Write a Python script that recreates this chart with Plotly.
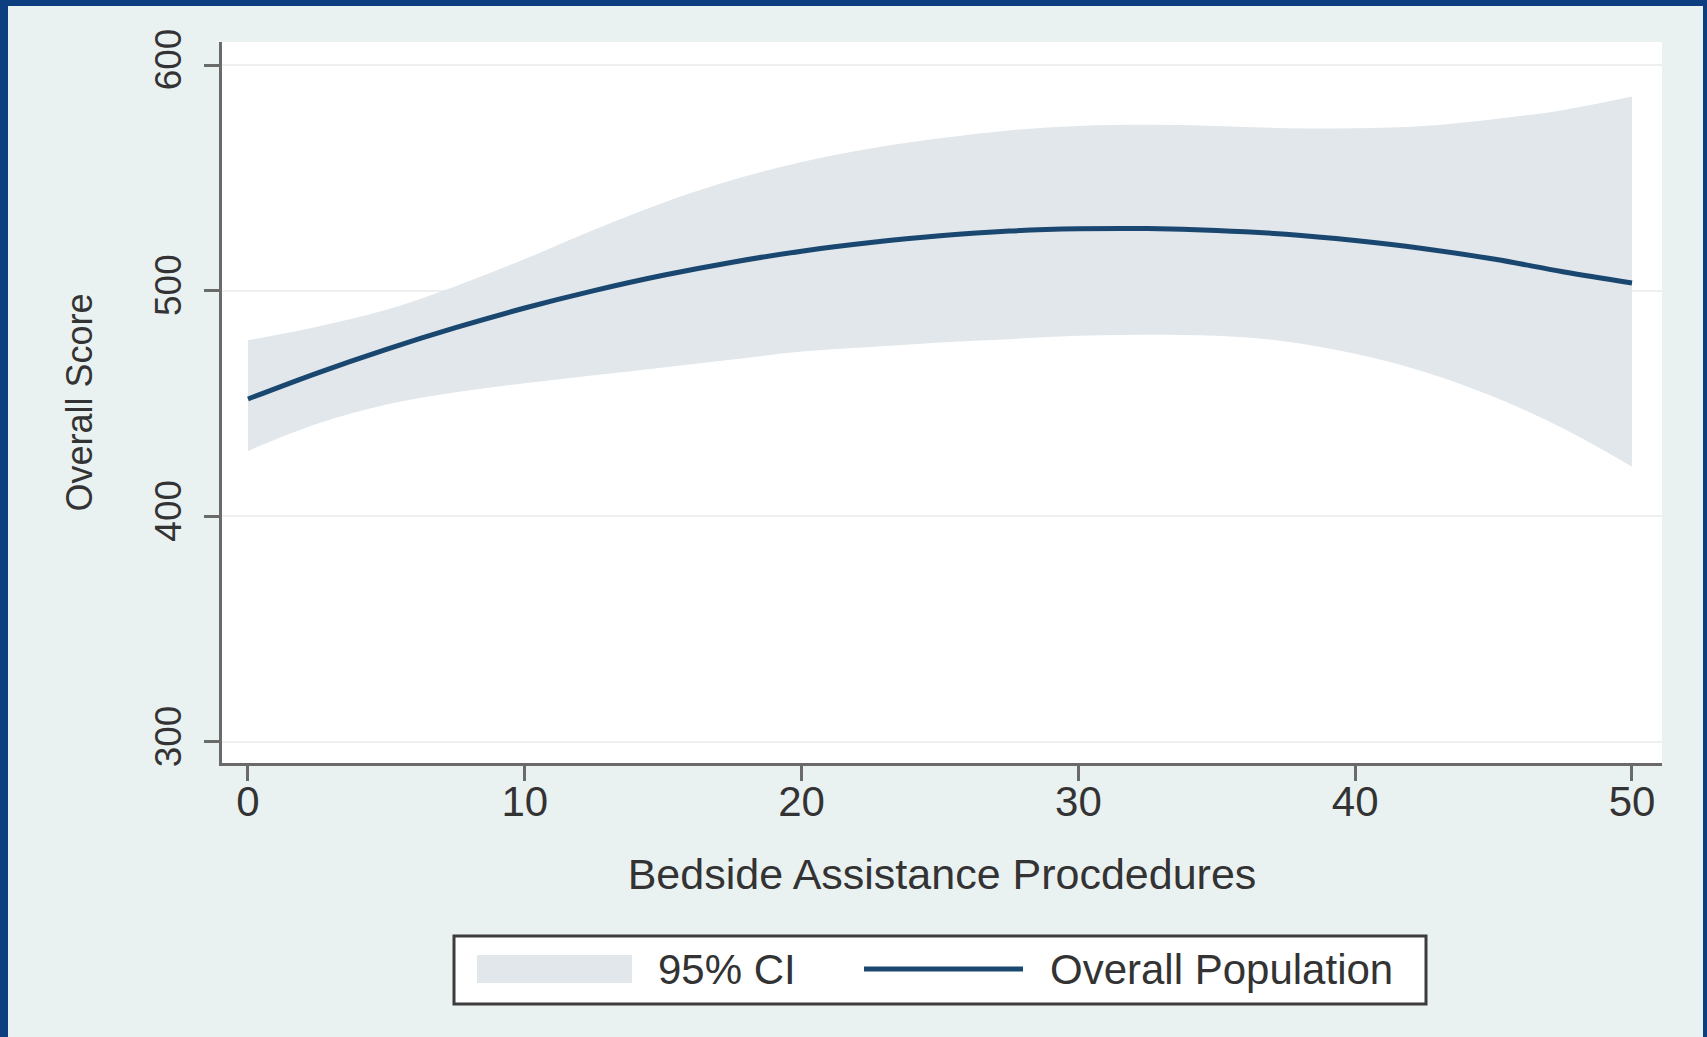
import plotly.graph_objects as go

# ---------------- data ----------------
x_vals = [0, 2.5, 5, 7.5, 10, 12.5, 15, 17.5, 20, 22.5, 25, 27.5, 30,
          32.5, 35, 37.5, 40, 42.5, 45, 47.5, 50]
fit_vals = [452.0, 463.5, 474.0, 483.6, 492.3, 500.0, 506.8, 512.6, 517.5,
            521.3, 524.3, 526.4, 527.4, 527.5, 526.7, 525.0, 522.2, 518.6,
            514.0, 508.4, 503.4]
ci_upper = [478, 484, 491.5, 502, 514, 527, 539, 549, 557, 563, 567.5, 571, 573,
            573.5, 573, 572, 572, 573, 576, 580, 586]
ci_lower = [429, 441, 449.5, 455, 459, 462.5, 466, 469.5, 473, 475, 477, 478.5,
            480, 480.5, 480, 477.5, 472, 464, 453, 439, 422]
x_ticks = [0, 10, 20, 30, 40, 50]
y_ticks = [300, 400, 500, 600]
legend_labels = ["95% CI", "Overall Population"]
x_title = "Bedside Assistance Procdedures"
y_title = "Overall Score"

# ---------------- styling ----------------
FONT = "Liberation Sans, Arial, sans-serif"
TXT = "#333333"
NAVY = "#1A476F"
CI_FILL = "#E1E7EB"
BG = "#EAF1F1"
FRAME = "#0C3E80"
AXIS = "#6A6A6A"

FW, FH = 1707, 1037
L, R, T, B = 222, 45, 42, 274
PW, PH = FW - L - R, FH - T - B


def px(x):
    return (x - L) / PW


def py(y):
    return 1 - (y - T) / PH


fig = go.Figure()
fig.add_trace(go.Scatter(x=x_vals, y=ci_lower, mode="lines", line=dict(width=0, shape="spline"),
                         showlegend=False, hoverinfo="skip"))
fig.add_trace(go.Scatter(x=x_vals, y=ci_upper, mode="lines", line=dict(width=0, shape="spline"),
                         fill="tonexty", fillcolor=CI_FILL, name=legend_labels[0], showlegend=False))
fig.add_trace(go.Scatter(x=x_vals, y=fit_vals, mode="lines",
                         line=dict(color=NAVY, width=5, shape="spline"),
                         name=legend_labels[1], showlegend=False))

shapes = [
    # slide frame
    dict(type="rect", xref="paper", yref="paper", x0=px(0), x1=px(8), y0=py(0), y1=py(FH),
         fillcolor=FRAME, line=dict(width=0)),
    dict(type="rect", xref="paper", yref="paper", x0=px(0), x1=px(FW), y0=py(0), y1=py(6),
         fillcolor=FRAME, line=dict(width=0)),
    dict(type="rect", xref="paper", yref="paper", x0=px(1703), x1=px(FW), y0=py(0), y1=py(FH),
         fillcolor=FRAME, line=dict(width=0)),
    # legend box
    dict(type="rect", xref="paper", yref="paper", x0=px(454), x1=px(1426), y0=py(936), y1=py(1004),
         fillcolor="white", line=dict(color="#3C3C3C", width=3)),
    dict(type="rect", xref="paper", yref="paper", x0=px(477), x1=px(632), y0=py(955), y1=py(983),
         fillcolor=CI_FILL, line=dict(width=0)),
    dict(type="line", xref="paper", yref="paper", x0=px(864), x1=px(1023), y0=py(969), y1=py(969),
         line=dict(color=NAVY, width=5)),
]

annotations = [
    dict(text=legend_labels[0], xref="paper", yref="paper", x=px(656), y=py(969),
         xanchor="left", yanchor="middle", showarrow=False, font=dict(size=42, color=TXT, family=FONT)),
    dict(text=legend_labels[1], xref="paper", yref="paper", x=px(1048), y=py(969),
         xanchor="left", yanchor="middle", showarrow=False, font=dict(size=42, color=TXT, family=FONT)),
]

fig.update_layout(
    width=FW, height=FH,
    margin=dict(l=L, r=R, t=T, b=B, pad=0),
    paper_bgcolor=BG, plot_bgcolor="white",
    font=dict(family=FONT, color=TXT),
    shapes=shapes, annotations=annotations,
    showlegend=False,
)
fig.update_xaxes(
    range=[-0.939, 51.084], tickvals=x_ticks, ticktext=[str(v) for v in x_ticks],
    showgrid=False, zeroline=False, showline=True, linecolor=AXIS, linewidth=3,
    ticks="outside", ticklen=15, tickwidth=3, tickcolor=AXIS,
    tickfont=dict(size=42, color=TXT, family=FONT), ticklabelstandoff=-15,
    title=dict(text=x_title, font=dict(size=43, color=TXT, family=FONT), standoff=35),
)
fig.update_yaxes(
    range=[290.69, 610.19], tickvals=y_ticks, ticktext=[str(v) for v in y_ticks],
    showgrid=True, gridcolor="#EEF0F0", gridwidth=2, zeroline=False,
    showline=True, linecolor=AXIS, linewidth=3,
    ticks="outside", ticklen=15, tickwidth=3, tickcolor=AXIS, tickangle=-90,
    tickfont=dict(size=37, color=TXT, family=FONT), ticklabelstandoff=8,
    title=dict(text=y_title, font=dict(size=36, color=TXT, family=FONT), standoff=45),
)

fig.write_html("out.html", config={"displayModeBar": False},
               post_script="document.body.style.margin='0px';document.body.style.overflow='hidden';")
